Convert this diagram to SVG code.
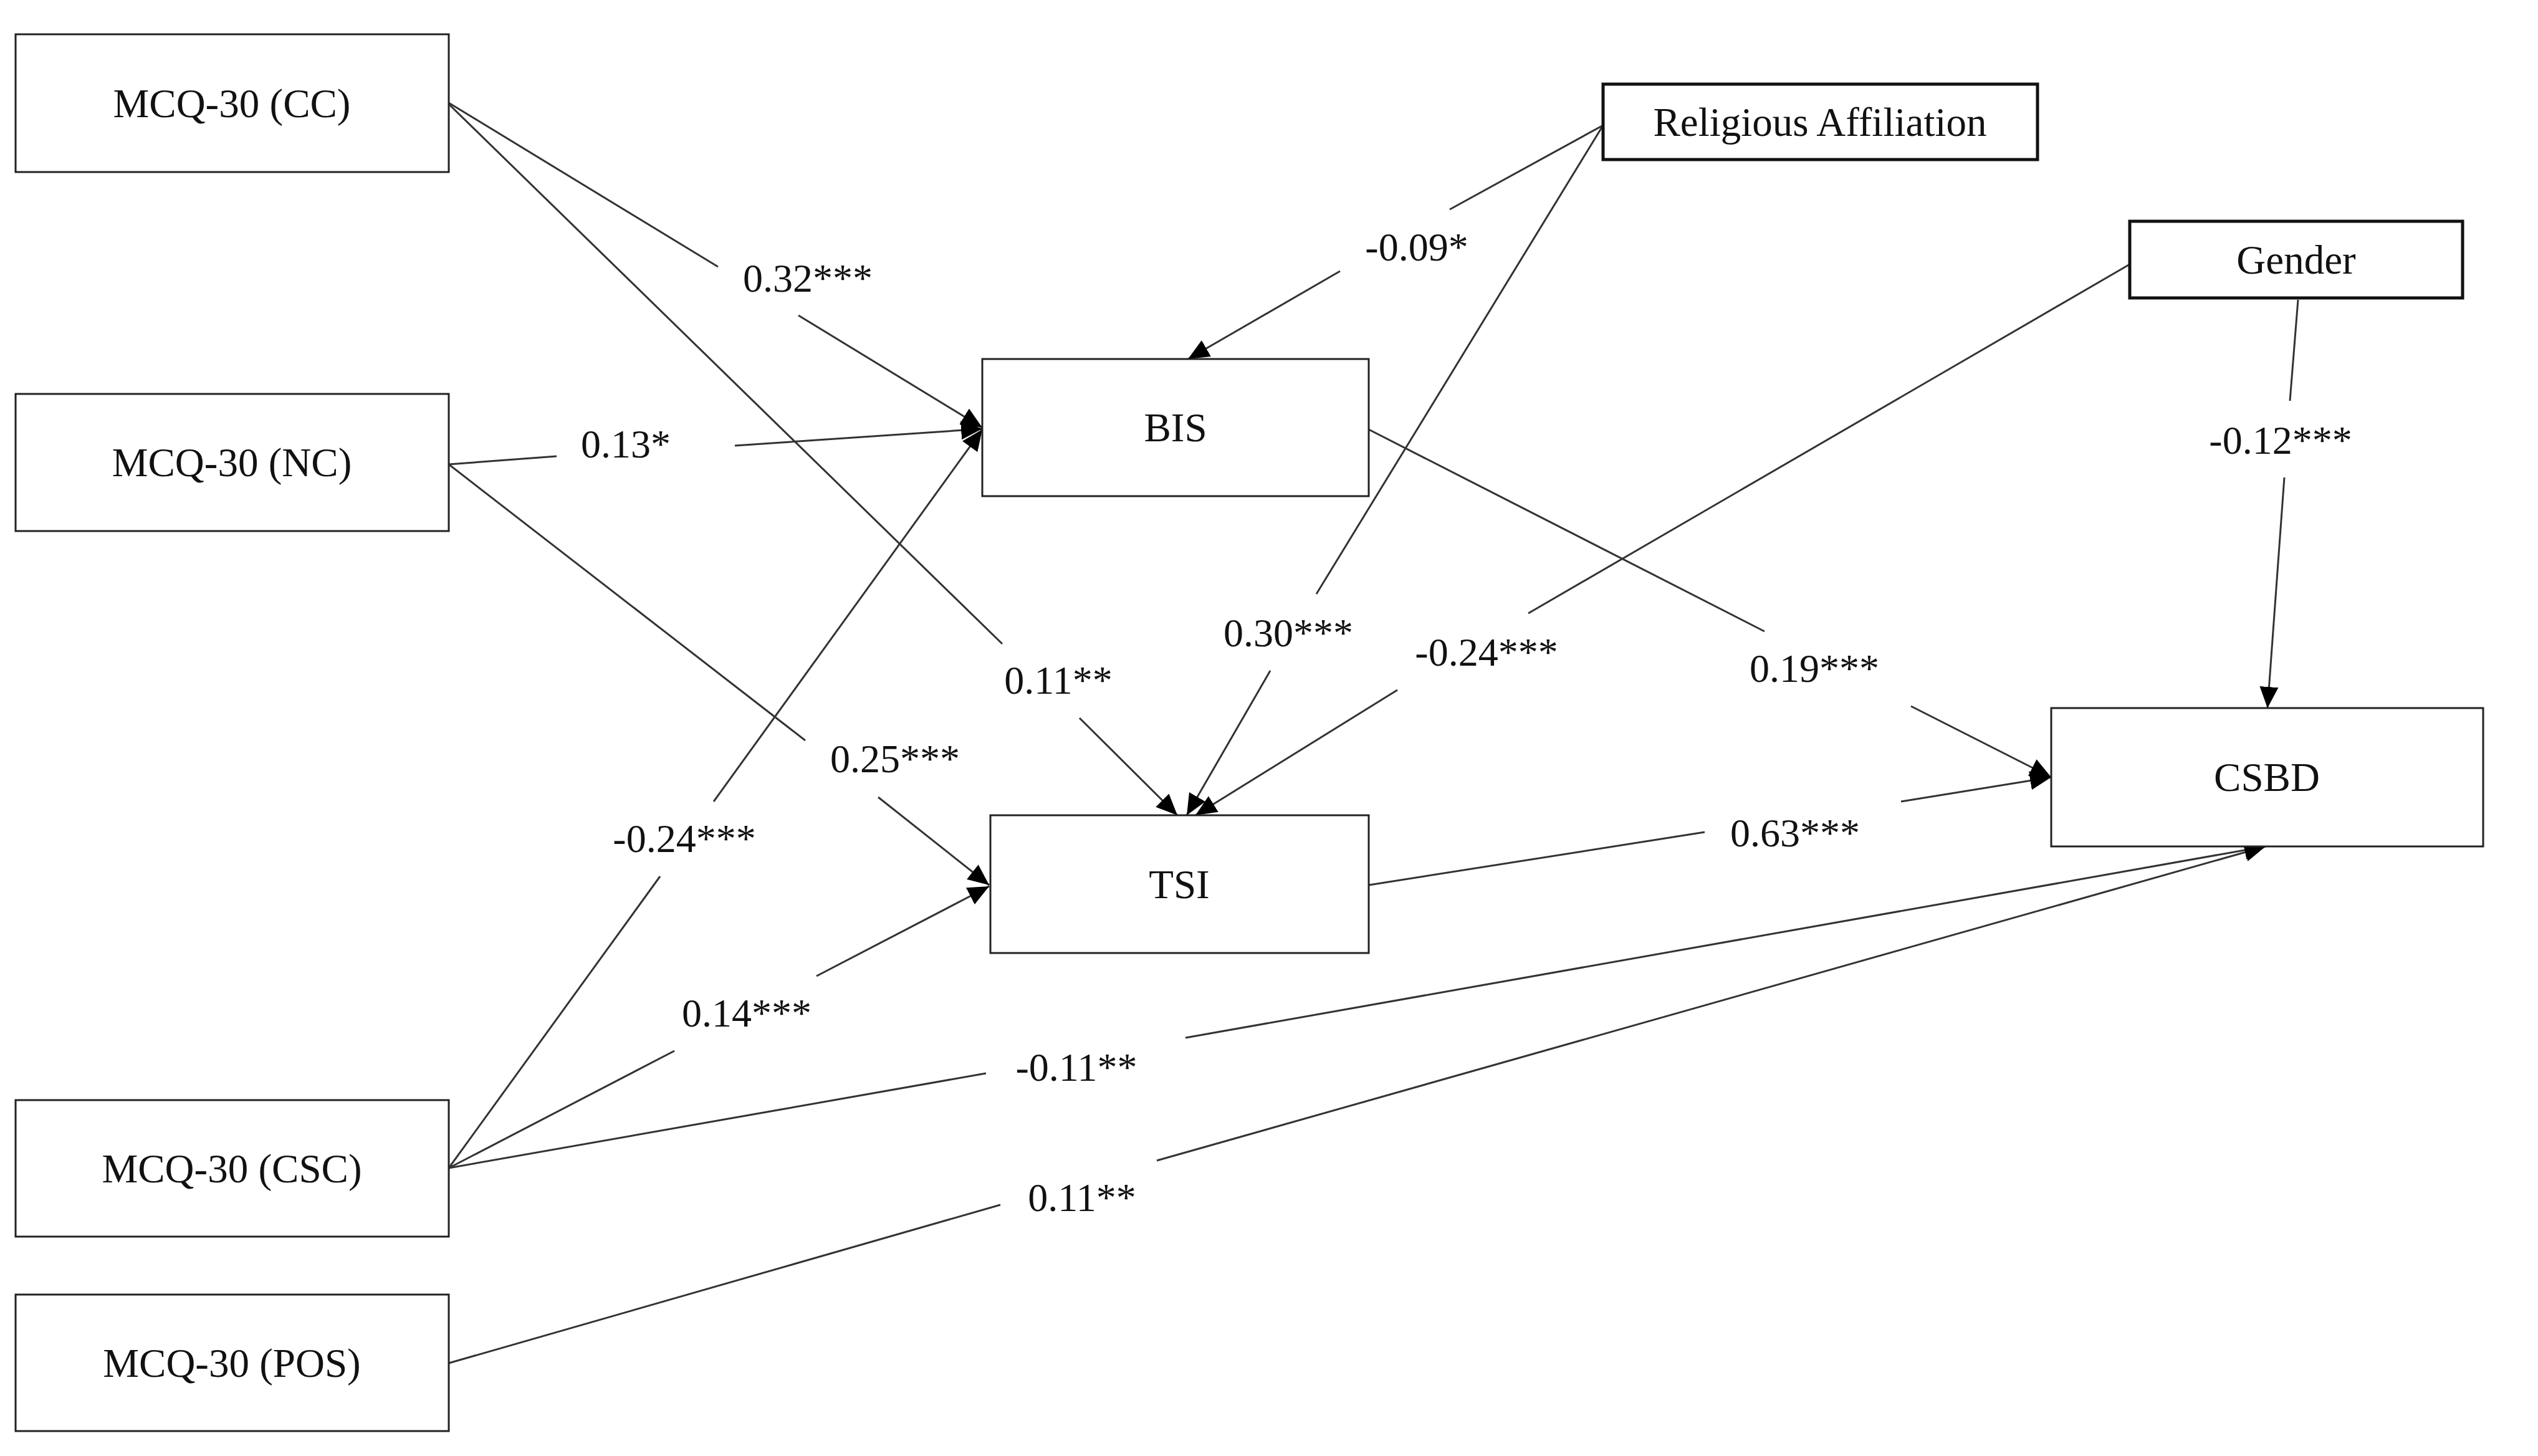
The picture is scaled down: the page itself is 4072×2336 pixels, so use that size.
<svg xmlns="http://www.w3.org/2000/svg" width="4072" height="2336" viewBox="0 0 4072 2336">
<style>
.box{fill:#fff;stroke:#222;stroke-width:3}
.box2{fill:#fff;stroke:#111;stroke-width:5}
.nt{font-family:"Liberation Serif","Times New Roman",serif;font-size:65px;fill:#111;text-anchor:middle}
.lt{font-family:"Liberation Serif","Times New Roman",serif;font-size:64px;fill:#111;text-anchor:middle}
.edge{fill:none;stroke:#333;stroke-width:3;marker-end:url(#arr)}
</style>
<defs>
<marker id="arr" markerUnits="userSpaceOnUse" markerWidth="36" markerHeight="32" refX="34" refY="16" orient="auto">
<path d="M0,1 L34,16 L0,31 z" fill="#000"/>
</marker>
</defs>
<rect width="4072" height="2336" fill="#fff"/>
<g id="connectors">
<path class="edge" d="M720,165 L1152,428 M1281,506 L1576,686"/>
<path class="edge" d="M720,167 L1608,1033 M1732,1152 L1889,1308"/>
<path class="edge" d="M720,745 L893,732 M1179,715 L1576,688"/>
<path class="edge" d="M720,745 L1292,1188 M1409,1279 L1587,1420"/>
<path class="edge" d="M720,1874 L1059,1406 M1145,1286 L1576,689"/>
<path class="edge" d="M720,1874 L1082,1686 M1310,1566 L1587,1422"/>
<path class="edge" d="M720,1874 L1582,1722 M1902,1665 L3635,1358"/>
<path class="edge" d="M720,2187 L1605,1933 M1856,1862 L3635,1358"/>
<path class="edge" d="M2572,201 L2326,336 M2150,435 L1906,576"/>
<path class="edge" d="M2572,201 L2112,953 M2038,1076 L1904,1308"/>
<path class="edge" d="M3417,424 L2452,984 M2242,1107 L1918,1308"/>
<path class="edge" d="M3687,481 L3674,643 M3665,766 L3638,1136"/>
<path class="edge" d="M2196,689 L2831,1013 M3066,1133 L3291,1247"/>
<path class="edge" d="M2196,1420 L2735,1335 M3050,1286 L3291,1247"/>
<g id="edge-labels">
<text class="lt" x="1296" y="468">0.32***</text>
<text class="lt" x="1698" y="1113">0.11**</text>
<text class="lt" x="1004" y="734">0.13*</text>
<text class="lt" x="1436" y="1239">0.25***</text>
<text class="lt" x="1098" y="1367">-0.24***</text>
<text class="lt" x="1198" y="1647">0.14***</text>
<text class="lt" x="1727" y="1734">-0.11**</text>
<text class="lt" x="1736" y="1943">0.11**</text>
<text class="lt" x="2273" y="418">-0.09*</text>
<text class="lt" x="2067" y="1037">0.30***</text>
<text class="lt" x="2385" y="1068">-0.24***</text>
<text class="lt" x="3659" y="728">-0.12***</text>
<text class="lt" x="2911" y="1094">0.19***</text>
<text class="lt" x="2880" y="1358">0.63***</text>
</g>
</g>
<g id="node-cc"><rect class="box" x="25" y="55" width="695" height="221"/><text class="nt" x="372" y="188">MCQ-30 (CC)</text></g>
<g id="node-nc"><rect class="box" x="25" y="632" width="695" height="220"/><text class="nt" x="372" y="764">MCQ-30 (NC)</text></g>
<g id="node-csc"><rect class="box" x="25" y="1765" width="695" height="219"/><text class="nt" x="372" y="1897">MCQ-30 (CSC)</text></g>
<g id="node-pos"><rect class="box" x="25" y="2077" width="695" height="219"/><text class="nt" x="372" y="2209">MCQ-30 (POS)</text></g>
<g id="node-bis"><rect class="box" x="1576" y="576" width="620" height="220"/><text class="nt" x="1886" y="708">BIS</text></g>
<g id="node-tsi"><rect class="box" x="1589" y="1308" width="607" height="221"/><text class="nt" x="1892" y="1441">TSI</text></g>
<g id="node-csbd"><rect class="box" x="3291" y="1136" width="693" height="222"/><text class="nt" x="3637" y="1269">CSBD</text></g>
<g id="node-religious"><rect class="box2" x="2572" y="135" width="697" height="121"/><text class="nt" x="2920" y="218">Religious Affiliation</text></g>
<g id="node-gender"><rect class="box2" x="3417" y="355" width="534" height="123"/><text class="nt" x="3684" y="439">Gender</text></g>
</svg>
